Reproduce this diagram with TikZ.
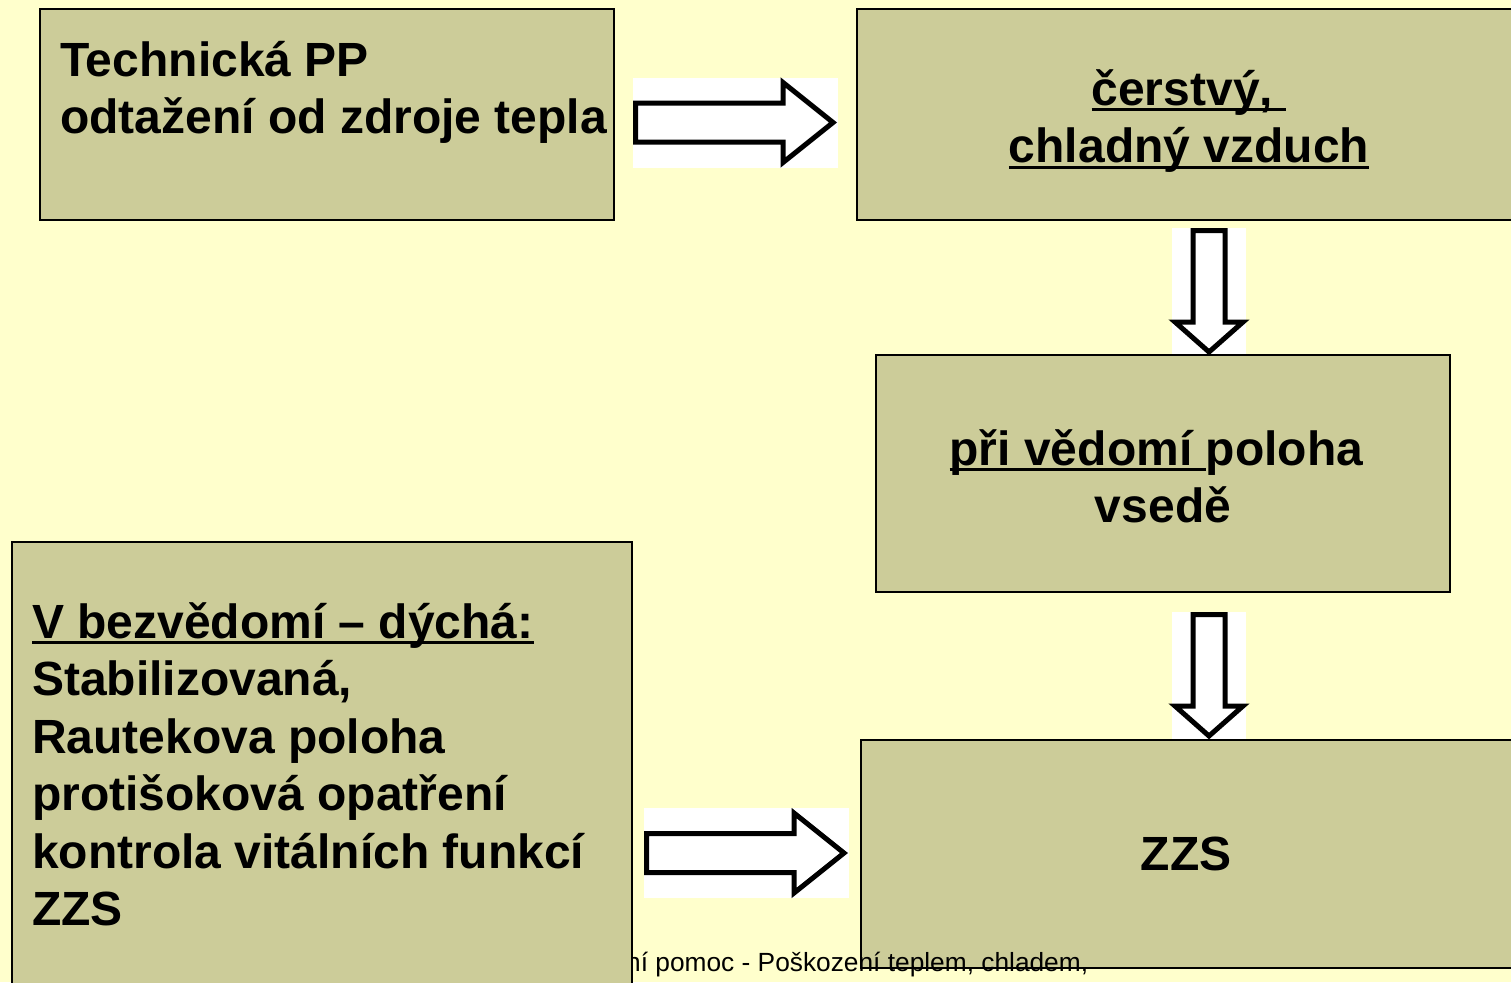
\documentclass[tikz,border=0pt]{standalone}
\usepackage{fontspec}
\setmainfont{Liberation Sans}
\usetikzlibrary{positioning}
\definecolor{slidebg}{HTML}{FFFFCC}
\definecolor{boxfill}{HTML}{CCCC99}
\newcommand{\ulbox}[1]{\setbox0=\hbox{#1}\rlap{\rule[-0.13em]{\wd0}{0.065em}}\box0}
\newcommand{\firstline}{\rule{0pt}{0.8em}}

\begin{document}
\begin{tikzpicture}[%
    x=1pt, y=-1pt,
    box/.style={rectangle, draw=black, line width=1.5pt, fill=boxfill, anchor=north west, outer sep=0pt, inner sep=0pt},
    boxtext/.style={inner sep=0pt, font=\fontsize{48}{57.5}\selectfont\bfseries},
    whitebg/.style={rectangle, fill=white, inner sep=0pt, outer sep=0pt},
    blockarrow/.style={draw=black, line width=5pt, fill=white, line join=miter},
    footer/.style={inner sep=0pt, font=\fontsize{26.3}{30}\selectfont}
]

% slide background
\useasboundingbox (0,0) rectangle (1511,982);
\fill[slidebg] (0,0) rectangle (1511,982);

% block arrows
\node[whitebg, minimum width=205, minimum height=90] (arrAB) at (735.5,122.5) {};
\draw[blockarrow, shift={(arrAB.center)}] (-100,-19.5) -- (47.5,-19.5) -- (47.5,-40) -- (97.5,0) -- (47.5,40) -- (47.5,19.5) -- (-100,19.5) -- cycle;

\node[whitebg, minimum width=74, minimum height=129] (arrBC) at (1209,292.5) {};
\draw[blockarrow, shift={(arrBC.center)}] (-16,-62) -- (16,-62) -- (16,29.5) -- (34,29.5) -- (0,59.5) -- (-34,29.5) -- (-16,29.5) -- cycle;

\node[whitebg, minimum width=74, minimum height=129] (arrCE) at (1209,676.5) {};
\draw[blockarrow, shift={(arrCE.center)}] (-16,-62) -- (16,-62) -- (16,29.5) -- (34,29.5) -- (0,59.5) -- (-34,29.5) -- (-16,29.5) -- cycle;

\node[whitebg, minimum width=205, minimum height=90] (arrDE) at (746.5,853) {};
\draw[blockarrow, shift={(arrDE.center)}] (-100,-19.5) -- (47.5,-19.5) -- (47.5,-40) -- (97.5,0) -- (47.5,40) -- (47.5,19.5) -- (-100,19.5) -- cycle;

% boxes
\node[box, minimum width=574, minimum height=211] (tech) at (40,9) {};
\node[box, minimum width=664, minimum height=211] (air) at (857,9) {};
\node[box, minimum width=574, minimum height=237] (sit) at (876,355) {};
\node[box, minimum width=652, minimum height=228] (zzs) at (861,740) {};

% footer (partly under the last box)
\node[footer, anchor=base west] (foot) at (626,971) {ní pomoc - Poškození teplem, chladem,};

\node[box, minimum width=620, minimum height=460] (uncon) at (12,542) {};

% box texts
\node[boxtext, align=left] (techtext) [below right=28.6pt and 20pt of tech.north west] {\firstline Technická PP\\odtažení od zdroje tepla};
\node[boxtext, align=center] (airtext) [below=57.6pt of air.north] {\firstline\ulbox{čerstvý,\ }\\\ulbox{chladný vzduch}};
\node[boxtext, align=center] (sittext) [below=71.6pt of sit.north] {\firstline\ulbox{při vědomí\ }poloha\hbox{\ }\\vsedě};
\node[boxtext, anchor=base] (zzstext) at (1186,870) {ZZS};
\node[boxtext, align=left] (uncontext) [below right=57.6pt and 20pt of uncon.north west] {\firstline\ulbox{V bezvědomí – dýchá:}\\Stabilizovaná,\\Rautekova poloha\\protišoková opatření\\kontrola vitálních funkcí\\ZZS};

\end{tikzpicture}
\end{document}
